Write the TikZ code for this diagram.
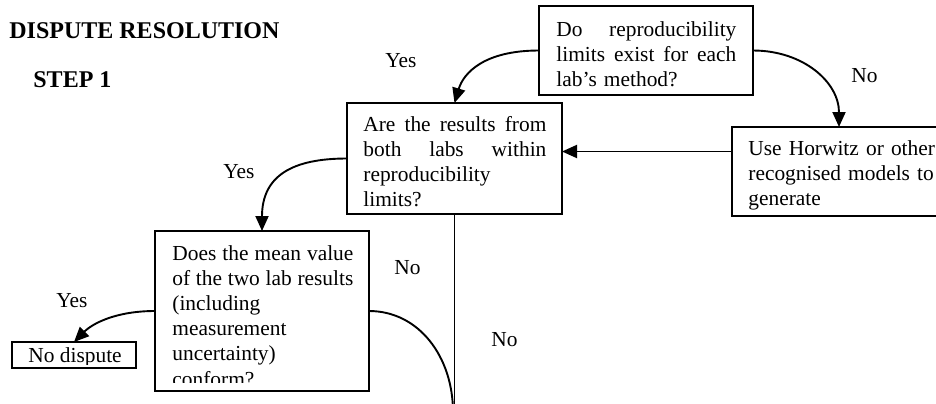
\documentclass[tikz,border=0pt]{standalone}
\usepackage{fontspec}
\setmainfont{Liberation Serif}
\usetikzlibrary{arrows.meta}
\newcommand\jline[2]{\leavevmode\hbox to #1{#2}}
\begin{document}
\begin{tikzpicture}[x=0.5pt,y=-0.5pt,
  box/.style={draw,line width=1pt,inner sep=0pt,outer sep=0pt,anchor=north west},
  txt/.style={inner sep=0pt,anchor=base west,text width=#1,align=left,font=\fontsize{10.7}{12.6}\selectfont},
  lbl/.style={inner sep=0pt,anchor=base west,font=\fontsize{10.7}{12.6}\selectfont},
  head/.style={inner sep=0pt,anchor=base west,font=\fontsize{12}{14}\selectfont\bfseries},
  conn/.style={line width=0.95pt},
  arr/.style={conn,-{Triangle[length=7.5pt,width=6.5pt]}}]
\useasboundingbox (0,0) rectangle (936,403);
\clip (0,0) rectangle (936,403);

% boxes
\node[box,minimum width=107pt,minimum height=44.5pt] (A) at (539,6) {};
\node[box,minimum width=107.5pt,minimum height=55.5pt] (B) at (347,103) {};
\node[box,minimum width=107pt,minimum height=44.5pt] (C) at (732,127) {};
\node[box,minimum width=107pt,minimum height=80pt] (D) at (155,231) {};
\node[box,minimum width=62pt,minimum height=13pt] (E) at (12,342) {};

% box texts
\node[txt=90pt] (tA) at (556,36) {\jline{90pt}{Do\hfill reproducibility}\\\jline{90pt}{limits\hfill exist\hfill for\hfill each}\\lab’s method?};
\node[txt=91.5pt] (tB) at (363,131) {\jline{91.5pt}{Are\hfill the\hfill results\hfill from}\\\jline{91.5pt}{both\hfill labs\hfill within}\\reproducibility\\limits?};
\node[txt=96pt] (tC) at (748,155) {Use Horwitz or other\\recognised models to\\generate};
\begin{scope}
\clip (D.north west) rectangle ([yshift=4.5pt]D.south east);
\node[txt=90.5pt] (tD) at (172,260) {\jline{90.5pt}{Does\hfill the\hfill mean\hfill value}\\\jline{90.5pt}{of\hfill the\hfill two\hfill lab\hfill results}\\(including\\measurement\\uncertainty)\\conform?};
\end{scope}
\begin{scope}
\clip (E.north west) rectangle ([yshift=2pt]E.south east);
\node[lbl] (tE) at (28,362.5) {No dispute};
\end{scope}

% headings and labels
\node[head] (h1) at (9,38) {DISPUTE RESOLUTION};
\node[head] (h2) at (33,87) {STEP 1};
\node[lbl] (y1) at (385,67) {Yes};
\node[lbl] (n1) at (851,82) {No};
\node[lbl] (y2) at (223,178) {Yes};
\node[lbl] (n2) at (394,274) {No};
\node[lbl] (n3) at (491,346) {No};
\node[lbl] (y3) at (56,307) {Yes};

% connectors
\coordinate (cw) at ([yshift=10pt]C.west);
\coordinate (bot) at (0,420);
\coordinate (dend) at (453,412);
\draw[arr] (A.west) .. controls +(-55,0) and +(9,-30) .. (B.north);
\draw[arr] (A.east) .. controls +(50,0) and +(0,-45) .. (C.north);
\draw[arr] (cw) -- (cw -| B.east);
\draw[arr] (B.west) .. controls +(-55,0) and +(0,-55) .. (D.north);
\draw[conn] (B.south) -- (B.south |- bot);
\draw[conn] (D.east) .. controls +(50,0) and +(0,-55) .. (dend);
\draw[arr] (D.west) .. controls +(-40,0) and +(18,-18) .. (E.north);
\end{tikzpicture}
\end{document}
